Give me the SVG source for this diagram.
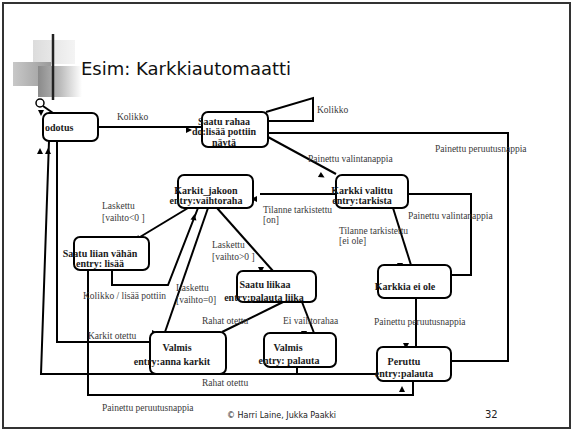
<svg xmlns="http://www.w3.org/2000/svg" width="574" height="432" viewBox="0 0 574 432">
<style>
.node rect{fill:#fff;stroke:#000;stroke-width:2}
.nt{font-family:"Liberation Serif",serif;font-weight:bold;font-size:10px;fill:#1a1a1a;text-anchor:middle}
.lb{font-family:"Liberation Serif",serif;font-size:9.5px;fill:#3a3a3a}
#edges line,#edges polyline{stroke:#000;stroke-width:2;fill:none}
.ft{font-family:"DejaVu Sans",sans-serif;fill:#222}
</style>
<defs>
<path id="ah" d="M3,0 L-3,-3 L-3,3 Z" fill="#000"/>
<linearGradient id="gl" x1="0" x2="1" y1="0" y2="0"><stop offset="0" stop-color="#222"/><stop offset="0.6" stop-color="#777"/><stop offset="1" stop-color="#e8e8e8"/></linearGradient>
<linearGradient id="g1" x1="0" x2="1"><stop offset="0" stop-color="#dcdcdc"/><stop offset="1" stop-color="#f4f4f4"/></linearGradient>
<linearGradient id="g2" x1="0" x2="1"><stop offset="0" stop-color="#c8c8c8"/><stop offset="1" stop-color="#9a9a9a"/></linearGradient>
<linearGradient id="g3" x1="0" x2="1"><stop offset="0" stop-color="#8a8a8a"/><stop offset="0.5" stop-color="#bbb"/><stop offset="1" stop-color="#fff"/></linearGradient>
</defs>
<rect x="0" y="0" width="574" height="432" fill="#fff"/>
<rect x="3" y="3" width="567" height="425" fill="none" stroke="#333" stroke-width="2"/>
<g id="title">
<rect x="33" y="40" width="42" height="24" fill="url(#g1)"/>
<rect x="13" y="62" width="38" height="24" fill="url(#g2)"/>
<rect x="38" y="66" width="44" height="31" fill="url(#g3)"/>
<line x1="53" y1="34" x2="53" y2="100" stroke="#222" stroke-width="2.5"/>
<line x1="33" y1="85" x2="562" y2="85" stroke="url(#gl)" stroke-width="2.5"/>
<text x="81" y="75" font-family="DejaVu Sans,sans-serif" font-size="18" fill="#111">Esim: Karkkiautomaatti</text>
</g>
<g id="edges">
<circle cx="40" cy="103" r="4" fill="none" stroke="#000" stroke-width="1.5"/>
<line x1="43" y1="106" x2="53" y2="113"/>
<line x1="98" y1="127" x2="202" y2="127"/>
<polyline points="266,112 313,98 313,121 268,121"/>
<polyline points="268,133 508,133 508,361 451,361"/>
<line x1="268" y1="137" x2="336" y2="174"/>
<line x1="336" y1="194" x2="260" y2="194"/>
<polyline points="408,194 471,194 471,275 451,275"/>
<line x1="393" y1="208" x2="411" y2="265"/>
<line x1="416" y1="298" x2="416" y2="347"/>
<line x1="188" y1="208" x2="135" y2="240"/>
<polyline points="112,270 112,285 168,285 198,208"/>
<line x1="208" y1="208" x2="165" y2="332"/>
<line x1="217" y1="208" x2="273" y2="271"/>
<line x1="283" y1="302" x2="222" y2="332"/>
<line x1="302" y1="302" x2="314" y2="333"/>
<polyline points="150,342 57,342 57,141"/>
<polyline points="49,141 41,374 377,374"/>
<line x1="297" y1="367" x2="297" y2="374"/>
<polyline points="88,270 88,395 413,395 413,381"/>
<use href="#ah" transform="translate(41,113) rotate(90)"/>
<use href="#ah" transform="translate(189,130)"/>
<use href="#ah" transform="translate(261,116) rotate(-90)"/>
<use href="#ah" transform="translate(322,176) rotate(30)"/>
<use href="#ah" transform="translate(402,200) rotate(180)"/>
<use href="#ah" transform="translate(254,199) rotate(180)"/>
<use href="#ah" transform="translate(400,266) rotate(90)"/>
<use href="#ah" transform="translate(406,346) rotate(90)"/>
<use href="#ah" transform="translate(444,366) rotate(180)"/>
<use href="#ah" transform="translate(402,389) rotate(-90)"/>
<use href="#ah" transform="translate(378,374) rotate(180)"/>
<use href="#ah" transform="translate(137,239) rotate(150)"/>
<use href="#ah" transform="translate(194,217) rotate(-80)"/>
<use href="#ah" transform="translate(155,333)"/>
<use href="#ah" transform="translate(261,270) rotate(90)"/>
<use href="#ah" transform="translate(217,336) rotate(-90)"/>
<use href="#ah" transform="translate(304,334) rotate(90)"/>
<use href="#ah" transform="translate(40,151) rotate(-90)"/>
<use href="#ah" transform="translate(48,151) rotate(-90)"/>
</g>
<g id="labels">
<text class="lb" x="117" y="120">Kolikko</text>
<text class="lb" x="317" y="113">Kolikko</text>
<text class="lb" x="435" y="152">Painettu peruutusnappia</text>
<text class="lb" x="308" y="162">Painettu valintanappia</text>
<text class="lb" x="408" y="219">Painettu valintanappia</text>
<text class="lb" x="263" y="213">Tilanne tarkistettu</text>
<text class="lb" x="263" y="223">[on]</text>
<text class="lb" x="339" y="234">Tilanne tarkistettu</text>
<text class="lb" x="339" y="244">[ei ole]</text>
<text class="lb" x="102" y="209">Laskettu</text>
<text class="lb" x="102" y="221">[vaihto&lt;0 ]</text>
<text class="lb" x="212" y="248">Laskettu</text>
<text class="lb" x="212" y="260">[vaihto&gt;0 ]</text>
<text class="lb" x="176" y="291">Laskettu</text>
<text class="lb" x="176" y="303">[vaihto=0]</text>
<text class="lb" x="83" y="299">Kolikko / lisää pottiin</text>
<text class="lb" x="88" y="339">Karkit otettu</text>
<text class="lb" x="202" y="324">Rahat otettu</text>
<text class="lb" x="283" y="324">Ei vaihtorahaa</text>
<text class="lb" x="374" y="325">Painettu peruutusnappia</text>
<text class="lb" x="202" y="386">Rahat otettu</text>
<text class="lb" x="102" y="411">Painettu peruutusnappia</text>
</g>
<g id="odotus" class="node"><rect x="43" y="113" width="55" height="28" rx="6"/><text class="nt" x="45" y="131" style="text-anchor:start">odotus</text></g>
<g id="saatu_rahaa" class="node"><rect x="202" y="112" width="66" height="35" rx="6"/><text class="nt" x="224" y="125">Saatu rahaa</text><text class="nt" x="224" y="135">do:lisää pottiin</text><text class="nt" x="224" y="146">näytä</text></g>
<g id="karkit_jakoon" class="node"><rect x="178" y="175" width="75" height="33" rx="6"/><text class="nt" x="206" y="194">Karkit_jakoon</text><text class="nt" x="206" y="204">entry:vaihtoraha</text></g>
<g id="karkki_valittu" class="node"><rect x="336" y="175" width="72" height="33" rx="6"/><text class="nt" x="362" y="194">Karkki valittu</text><text class="nt" x="362" y="204">entry:tarkista</text></g>
<g id="saatu_liian_vahan" class="node"><rect x="74" y="237" width="75" height="33" rx="6"/><text class="nt" x="100" y="257">Saatu liian vähän</text><text class="nt" x="100" y="267">entry: lisää</text></g>
<g id="saatu_liikaa" class="node"><rect x="237" y="271" width="79" height="31" rx="6"/><text class="nt" x="265" y="288">Saatu liikaa</text><text class="nt" x="264" y="301">entry:palauta liika</text></g>
<g id="karkkia_ei_ole" class="node"><rect x="378" y="265" width="73" height="33" rx="6"/><text class="nt" x="405" y="290">Karkkia  ei ole</text></g>
<g id="valmis_karkit" class="node"><rect x="150" y="332" width="76" height="42" rx="6"/><text class="nt" x="177" y="351">Valmis</text><text class="nt" x="172" y="365">entry:anna karkit</text></g>
<g id="valmis_palauta" class="node"><rect x="264" y="333" width="72" height="34" rx="6"/><text class="nt" x="288" y="351">Valmis</text><text class="nt" x="289" y="364">entry: palauta</text></g>
<g id="peruttu" class="node"><rect x="377" y="347" width="74" height="34" rx="6"/><text class="nt" x="404" y="365">Peruttu</text><text class="nt" x="404" y="377">entry:palauta</text></g>
<g id="footer">
<text class="ft" x="227" y="418" font-size="8">© Harri Laine, Jukka Paakki</text>
<text class="ft" x="485" y="418" font-size="10">32</text>
</g>
</svg>
